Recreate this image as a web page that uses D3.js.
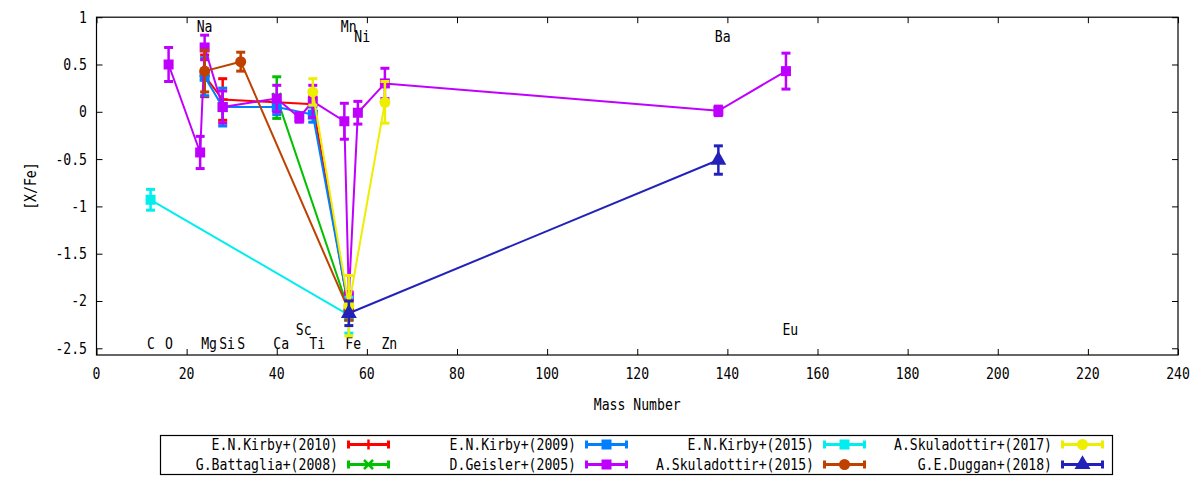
<!DOCTYPE html>
<html>
<head>
<meta charset="utf-8">
<script src="https://cdn.jsdelivr.net/npm/d3@7"></script>
<style>
body { margin: 0; background: #fff; }
text { font-family: "DejaVu Sans Mono", monospace; font-size: 16px; fill: #000; }
</style>
</head>
<body>
<svg id="svgcanvas" width="1200" height="480"></svg>
<script>
// element labels: mass number and the height of the label
var elements = ["C", "O", "Na", "Mg", "Si", "S", "Ca", "Sc", "Ti", "Mn", "Fe", "Ni", "Zn", "Ba", "Eu"];
var elemMass = [12, 16, 23, 24, 28, 32, 40, 45, 48, 55, 56, 58, 64, 138, 153];
var elemY    = [-2.45, -2.45, 0.9, -2.45, -2.45, -2.45, -2.45, -2.3, -2.45, 0.9, -2.45, 0.8, -2.45, 0.8, -2.3];

var xTicks = [0, 20, 40, 60, 80, 100, 120, 140, 160, 180, 200, 220, 240];
var yTicks = [1, 0.5, 0, -0.5, -1, -1.5, -2, -2.5];

// [X/Fe] per paper (Fe point is [Fe/H])
var kirby2010Mass = [24, 28, 40, 48, 56];
var kirby2010Val  = [0.38, 0.13, 0.10, 0.08, -2.10];
var kirby2010Err  = [0.22, 0.22, 0.06, 0.08, 0.10];

var battaglia2008Mass = [40, 56];
var battaglia2008Val  = [0.15, -2.10];
var battaglia2008Err  = [0.22, 0.10];

var kirby2009Mass = [24, 28, 40, 48, 56];
var kirby2009Val  = [0.37, 0.05, 0.05, -0.03, -2.08];
var kirby2009Err  = [0.20, 0.20, 0.08, 0.08, 0.12];

var geisler2005Mass = [16, 23, 24, 28, 40, 45, 48, 55, 56, 58, 64, 138, 153];
var geisler2005Val  = [0.50, -0.43, 0.68, 0.05, 0.14, -0.06, 0.11, -0.10, -1.95, -0.01, 0.30, 0.01, 0.43];
var geisler2005Err  = [0.18, 0.17, 0.13, 0.17, 0.14, 0.05, 0.17, 0.19, 0.05, 0.12, 0.16, 0.05, 0.19];

var kirby2015Mass = [12, 56];
var kirby2015Val  = [-0.93, -2.15];
var kirby2015Err  = [0.11, 0.19];

var skul2015Mass = [24, 32, 56];
var skul2015Val  = [0.43, 0.53, -2.10];
var skul2015Err  = [0.22, 0.10, 0.10];

var skul2017Mass = [48, 56, 64];
var skul2017Val  = [0.21, -2.05, 0.10];
var skul2017Err  = [0.14, 0.32, 0.22];

var duggan2018Mass = [56, 138];
var duggan2018Val  = [-2.13, -0.51];
var duggan2018Err  = [0.13, 0.15];

var series = [
  {name: "E.N.Kirby+(2010)",    mass: kirby2010Mass,     val: kirby2010Val,     err: kirby2010Err,     color: "#ff0000", pt: "plus"},
  {name: "G.Battaglia+(2008)",  mass: battaglia2008Mass, val: battaglia2008Val, err: battaglia2008Err, color: "#00c000", pt: "cross"},
  {name: "E.N.Kirby+(2009)",    mass: kirby2009Mass,     val: kirby2009Val,     err: kirby2009Err,     color: "#0080ff", pt: "square"},
  {name: "D.Geisler+(2005)",    mass: geisler2005Mass,   val: geisler2005Val,   err: geisler2005Err,   color: "#c000ff", pt: "square"},
  {name: "E.N.Kirby+(2015)",    mass: kirby2015Mass,     val: kirby2015Val,     err: kirby2015Err,     color: "#00eeee", pt: "square"},
  {name: "A.Skuladottir+(2015)",mass: skul2015Mass,      val: skul2015Val,      err: skul2015Err,      color: "#c04000", pt: "circle"},
  {name: "A.Skuladottir+(2017)",mass: skul2017Mass,      val: skul2017Val,      err: skul2017Err,      color: "#eeee00", pt: "circle"},
  {name: "G.E.Duggan+(2018)",   mass: duggan2018Mass,    val: duggan2018Val,    err: duggan2018Err,    color: "#2222bb", pt: "triangle"}
];

var plotLeft = 96.5, plotRight = 1178, plotTop = 17.2, plotBottom = 355;
var charW = 7.9;

var svg = d3.select("#svgcanvas");
var x = d3.scaleLinear().domain([0, 240]).range([plotLeft, plotRight]);
var y = d3.scaleLinear().domain([-2.571, 1]).range([plotBottom, plotTop]);

// narrow monospace text like the gnuplot png font
function label(g, str, px, py, anchor) {
  var w = str.length * charW;
  var x0 = anchor == "end" ? px - w : anchor == "middle" ? px - w / 2 : px;
  return g.append("text").attr("x", x0).attr("y", py)
    .attr("textLength", w).attr("lengthAdjust", "spacingAndGlyphs").text(str);
}

// axes, ticks pointing inward and mirrored
var axisG = svg.append("g");
axisG.append("g").attr("transform", "translate(0," + plotBottom + ")")
  .call(d3.axisBottom(x).tickValues(xTicks).tickSize(-6).tickFormat(""));
axisG.append("g").attr("transform", "translate(0," + plotTop + ")")
  .call(d3.axisTop(x).tickValues(xTicks).tickSize(-6).tickFormat(""));
axisG.append("g").attr("transform", "translate(" + plotLeft + ",0)")
  .call(d3.axisLeft(y).tickValues(yTicks).tickSize(-6).tickFormat(""));
axisG.append("g").attr("transform", "translate(" + plotRight + ",0)")
  .call(d3.axisRight(y).tickValues(yTicks).tickSize(-6).tickFormat(""));
axisG.selectAll(".domain").remove();
axisG.selectAll("line").attr("stroke", "#000").attr("stroke-width", 1);
svg.append("rect").attr("x", plotLeft).attr("y", plotTop).attr("width", plotRight - plotLeft).attr("height", plotBottom - plotTop)
  .attr("fill", "none").attr("stroke", "#000").attr("stroke-width", 1.2);

xTicks.forEach(function(t) { label(svg, String(t), x(t), 379, "middle"); });
yTicks.forEach(function(t) { label(svg, String(t), 87, y(t) + 5.5, "end"); });

label(svg, "Mass Number", (plotLeft + plotRight) / 2, 410, "middle");
var yl = svg.append("g").attr("transform", "translate(36," + ((plotTop + plotBottom) / 2) + ") rotate(-90)");
label(yl, "[X/Fe]", 0, 0, "middle");

// element labels
elements.forEach(function(el, i) {
  label(svg, el, x(elemMass[i]) - 3.5, y(elemY[i]) + 5.5, "start");
});

function marker(g, type, cx, cy, color) {
  if (type == "square") {
    g.append("rect").attr("x", cx - 5).attr("y", cy - 5).attr("width", 10).attr("height", 10).attr("fill", color);
  } else if (type == "circle") {
    g.append("circle").attr("cx", cx).attr("cy", cy).attr("r", 5.5).attr("fill", color);
  } else if (type == "triangle") {
    g.append("path").attr("d", d3.symbol(d3.symbolTriangle, 110)()).attr("transform", "translate(" + cx + "," + cy + ")").attr("fill", color);
  } else if (type == "plus") {
    g.append("path").attr("d", "M" + (cx - 5) + "," + cy + "H" + (cx + 5) + "M" + cx + "," + (cy - 5) + "V" + (cy + 5))
      .attr("stroke", color).attr("stroke-width", 2.5);
  } else if (type == "cross") {
    g.append("path").attr("d", "M" + (cx - 4.5) + "," + (cy - 4.5) + "L" + (cx + 4.5) + "," + (cy + 4.5) + "M" + (cx - 4.5) + "," + (cy + 4.5) + "L" + (cx + 4.5) + "," + (cy - 4.5))
      .attr("stroke", color).attr("stroke-width", 2.5);
  }
}

var line = d3.line().x(d => x(d.m)).y(d => y(d.v));

series.forEach(function(s) {
  var pts = s.mass.map(function(m, i) { return {m: m, v: s.val[i], e: s.err[i]}; });
  var g = svg.append("g");
  g.append("path").datum(pts).attr("d", line)
    .attr("fill", "none").attr("stroke", s.color).attr("stroke-width", 2);
  g.selectAll("line.bar").data(pts).enter().append("line").classed("bar", true)
    .attr("x1", d => x(d.m)).attr("x2", d => x(d.m))
    .attr("y1", d => y(d.v - d.e)).attr("y2", d => y(d.v + d.e))
    .attr("stroke", s.color).attr("stroke-width", 2.5);
  [-1, 1].forEach(function(sign) {
    g.selectAll("line.cap" + sign).data(pts).enter().append("line")
      .attr("x1", d => x(d.m) - 4.5).attr("x2", d => x(d.m) + 4.5)
      .attr("y1", d => y(d.v + sign * d.e)).attr("y2", d => y(d.v + sign * d.e))
      .attr("stroke", s.color).attr("stroke-width", 3);
  });
  pts.forEach(function(d) { marker(g, s.pt, x(d.m), y(d.v), s.color); });
});

// legend: 4 columns, filled top to bottom
var leg = svg.append("g");
leg.append("rect").attr("x", 160.5).attr("y", 435.5).attr("width", 952).attr("height", 39)
  .attr("fill", "#fff").attr("stroke", "#000").attr("stroke-width", 1.2);
series.forEach(function(s, i) {
  var col = Math.floor(i / 2), row = i % 2;
  var sx = 347 + 238 * col, sy = 444.5 + 20 * row;
  label(leg, s.name, sx - 9, sy + 5.5, "end");
  leg.append("line").attr("x1", sx).attr("x2", sx + 43).attr("y1", sy).attr("y2", sy)
    .attr("stroke", s.color).attr("stroke-width", 3);
  [sx + 1.5, sx + 41.5].forEach(function(cx) {
    leg.append("line").attr("x1", cx).attr("x2", cx).attr("y1", sy - 4).attr("y2", sy + 4)
      .attr("stroke", s.color).attr("stroke-width", 3);
  });
  marker(leg, s.pt, sx + 21.5, sy, s.color);
});
</script>
</body>
</html>
